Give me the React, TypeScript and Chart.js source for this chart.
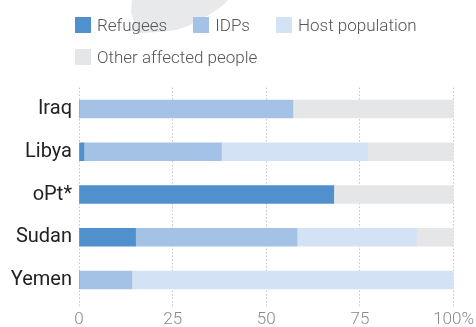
import React, { useEffect, useRef } from "react";
import { Chart, registerables } from "chart.js";

Chart.register(...registerables);

const categories = ["Iraq", "Libya", "oPt*", "Sudan", "Yemen"];
const refugees = [0, 1.3, 68, 15.1, 0];
const idps = [57.1, 36.7, 0, 43.1, 14.1];
const hostPopulation = [0, 39.1, 0, 31.9, 85.9];
const otherAffected = [42.9, 22.9, 32, 9.9, 0];
const xTicks = [0, 25, 50, 75, 100];

const seriesNames = ["Refugees", "IDPs", "Host population", "Other affected people"];
const seriesColors = ["#4f90cd", "#a4c2e6", "#d3e2f4", "#e5e6e7"];

export default function App() {
  const canvasRef = useRef<HTMLCanvasElement | null>(null);

  useEffect(() => {
    if (!canvasRef.current) return;
    const values = [refugees, idps, hostPopulation, otherAffected];
    const chart = new Chart(canvasRef.current, {
      type: "bar",
      data: {
        labels: categories,
        datasets: values.map((v, i) => ({
          label: seriesNames[i],
          data: v,
          backgroundColor: seriesColors[i],
          borderWidth: 0,
          barThickness: 18,
        })),
      },
      options: {
        indexAxis: "y",
        animation: false,
        responsive: false,
        maintainAspectRatio: false,
        layout: { padding: { top: 87.6, right: 20, bottom: 0, left: 0 } },
        plugins: {
          legend: { display: false },
          tooltip: { enabled: false },
        },
        scales: {
          x: {
            stacked: true,
            min: 0,
            max: 100,
            afterBuildTicks: (scale: any) => {
              scale.ticks = xTicks.map((v) => ({ value: v }));
            },
            afterFit: (scale: any) => {
              scale.height = 25.6;
            },
            border: { display: false, dash: [1.5, 2] },
            grid: {
              color: "#c4c4c4",
              lineWidth: 1,
              tickLength: 6,
              drawTicks: true,
              tickColor: "#c4c4c4",
              tickBorderDash: [1.5, 2],
            } as any,
            ticks: {
              padding: 2,
              color: "#8a8a8a",
              font: { family: "Roboto", size: 17, weight: 300 as any },
              callback: (v: any) => (Number(v) === 100 ? "100%" : String(v)),
            },
          },
          y: {
            stacked: true,
            afterFit: (scale: any) => {
              scale.width = 79;
            },
            border: { display: false },
            grid: { display: false, drawTicks: false },
            ticks: {
              padding: 7,
              color: "#222222",
              font: { family: "Roboto", size: 20, weight: 400 as any },
            },
          },
        },
      },
    });
    return () => chart.destroy();
  }, []);

  const legendItems = seriesNames.map((name, i) => (
    <div
      key={name}
      style={{
        display: "flex",
        alignItems: "center",
        height: 16,
        marginRight: 26,
        marginBottom: 16,
      }}
    >
      <span
        style={{
          display: "inline-block",
          width: 16,
          height: 16,
          background: seriesColors[i],
          marginRight: 6,
        }}
      />
      <span
        style={{
          fontFamily: "Roboto",
          fontWeight: 300,
          fontSize: 17,
          color: "#555",
          whiteSpace: "nowrap",
          lineHeight: "16px",
        }}
      >
        {name}
      </span>
    </div>
  ));

  return (
    <div style={{ position: "absolute", left: 0, top: 0, width: 476, height: 327, background: "#fff", overflow: "hidden" }}>
      <svg width={476} height={40} style={{ position: "absolute", left: 0, top: 0 }}>
        <polygon
          points="132,0 228,0 222,6 212,13 200,20 188,26 176,30 160,32 140,33 131,31 134,22 131,12"
          fill="#e8e9eb"
        />
      </svg>
      <canvas ref={canvasRef} width={476} height={327} style={{ position: "absolute", left: 0, top: 0, display: "block" }} />
      <div
        style={{
          position: "absolute",
          left: 75,
          top: 17,
          width: 370,
          display: "flex",
          flexWrap: "wrap",
        }}
      >
        {legendItems}
      </div>
    </div>
  );
}
